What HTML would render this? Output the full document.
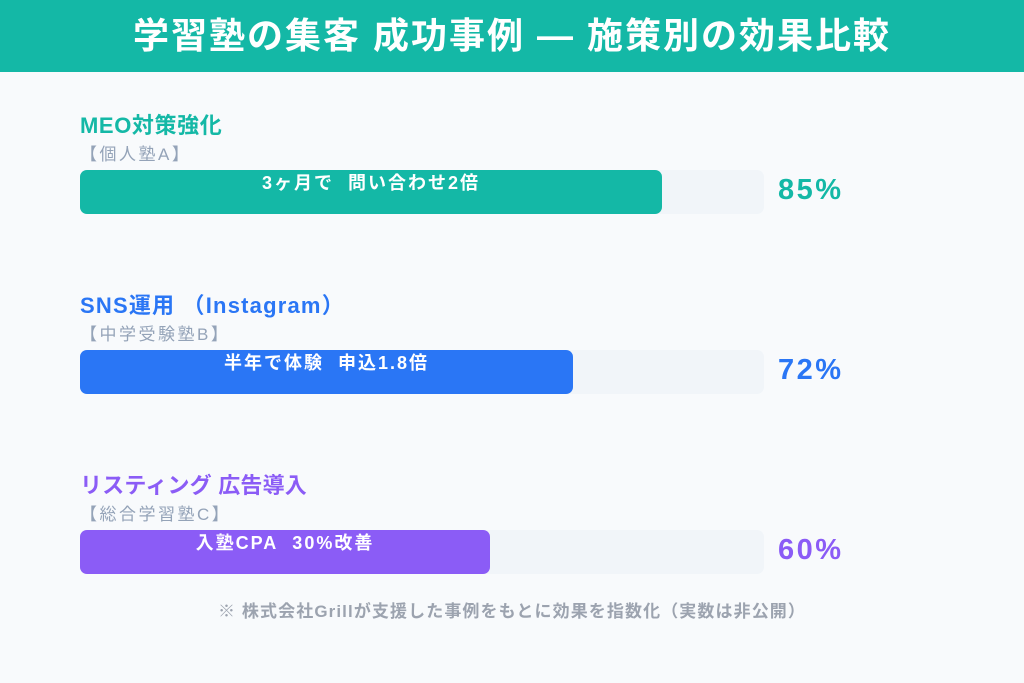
<!DOCTYPE html>
<html><head><meta charset="utf-8"><style>
body{margin:0;width:1024px;height:683px;background:#f8fafc;font-family:"Liberation Sans","Noto Sans CJK JP",sans-serif;position:relative;overflow:hidden}
.hdr{position:absolute;left:0;top:0;width:1024px;height:72px;background:#14b8a6;color:#fff;font-weight:bold;font-size:36px;letter-spacing:2px;text-align:center;line-height:72px}
.t{position:absolute;left:80px;font-weight:bold;font-size:22px;letter-spacing:0.6px}
.s{position:absolute;left:80px;font-size:17px;color:#94a3b8;letter-spacing:2.5px}
.track{position:absolute;left:80px;width:684px;height:44px;background:#f1f5f9;border-radius:7px}
.fill{position:absolute;left:0;top:0;height:44px;border-radius:7px;color:#fff;font-weight:bold;font-size:18px;letter-spacing:2px;text-align:center;line-height:26px}
.p{position:absolute;left:778px;font-weight:bold;font-size:29px;letter-spacing:2.5px}
.f{position:absolute;left:0;width:1024px;top:597px;text-align:center;font-size:17px;letter-spacing:1.1px;color:#9ca3af;font-weight:bold}
</style></head><body>
<div class="hdr">学習塾の集客 成功事例 — 施策別の効果比較</div>

<div class="t" style="top:108px;color:#14b8a6">MEO対策強化</div>
<div class="s" style="top:140px">【個人塾A】</div>
<div class="track" style="top:170px"><div class="fill" style="width:582px;background:#14b8a6">3ヶ月で&nbsp; 問い合わせ2倍</div></div>
<div class="p" style="top:174px;color:#14b8a6">85%</div>

<div class="t" style="top:288px;color:#2a76f5;letter-spacing:1.2px">SNS運用 （Instagram）</div>
<div class="s" style="top:320px">【中学受験塾B】</div>
<div class="track" style="top:350px"><div class="fill" style="width:493px;background:#2a76f5">半年で体験&nbsp; 申込1.8倍</div></div>
<div class="p" style="top:354px;color:#2a76f5">72%</div>

<div class="t" style="top:468px;color:#8b5cf6;letter-spacing:0.2px">リスティング 広告導入</div>
<div class="s" style="top:500px">【総合学習塾C】</div>
<div class="track" style="top:530px"><div class="fill" style="width:410px;background:#8b5cf6">入塾CPA&nbsp; 30%改善</div></div>
<div class="p" style="top:534px;color:#8b5cf6">60%</div>

<div class="f">※ 株式会社Grillが支援した事例をもとに効果を指数化（実数は非公開）</div>
</body></html>
